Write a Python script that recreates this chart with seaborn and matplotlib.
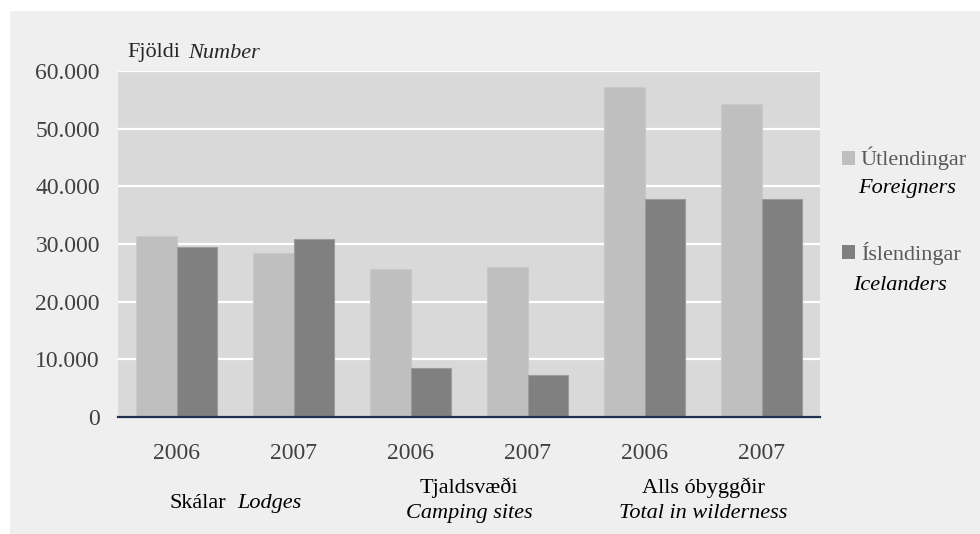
import matplotlib
matplotlib.use("Agg")
import matplotlib.pyplot as plt
from matplotlib.patches import Rectangle
from matplotlib.ticker import FuncFormatter, MultipleLocator
import pandas as pd
import seaborn as sns

# Data
flokkar = ["Skálar", "Skálar ", "Tjaldsvæði", "Tjaldsvæði ", "Alls óbyggðir", "Alls óbyggðir "]
ar = ["2006", "2007", "2006", "2007", "2006", "2007"]
utlendingar = [31400, 28400, 25700, 26000, 57200, 54200]
islendingar = [29500, 30800, 8500, 7200, 37800, 37800]
hopar = ["Útlendingar", "Íslendingar"]
hopar_en = ["Foreigners", "Icelanders"]
yfirflokkar = [("Skálar", "Lodges"), ("Tjaldsvæði", "Camping sites"), ("Alls óbyggðir", "Total in wilderness")]

# Style
LITIR = ["#bfbfbf", "#808080"]
BRUNIR = ["#c9c9c9", "#9c9c9c"]
PLOT_BG = "#d9d9d9"
PANEL_BG = "#efefef"
TEXT_GRAY = "#404040"
FS_TICK = 17
FS = 16

sns.set_theme(style="white")
plt.rcParams["font.family"] = ["Liberation Serif", "DejaVu Serif"]

df = pd.DataFrame({
    "flokkur": flokkar * 2,
    "fjoldi": utlendingar + islendingar,
    "hopur": [hopar[0]] * len(flokkar) + [hopar[1]] * len(flokkar),
})

fig = plt.figure(figsize=(9.8, 5.34), dpi=100)
fig.patch.set_facecolor("white")
fig.patches.append(Rectangle((10 / 980, 0), 1, 523 / 534, transform=fig.transFigure,
                             facecolor=PANEL_BG, edgecolor="none", zorder=-10))

ax = fig.add_axes([118 / 980, 1 - 417 / 534, 702 / 980, 346 / 534])
ax.set_facecolor(PLOT_BG)

sns.barplot(data=df, x="flokkur", y="fjoldi", hue="hopur", palette=LITIR,
            width=0.7, saturation=1, linewidth=0.8, ax=ax, legend=False)
for cont, brun in zip(ax.containers, BRUNIR):
    for bar in cont:
        bar.set_edgecolor(brun)

ax.set_ylim(0, 60000)
ax.yaxis.set_major_locator(MultipleLocator(10000))
ax.yaxis.set_major_formatter(FuncFormatter(lambda v, p: f"{int(v):,}".replace(",", ".")))
ax.grid(axis="y", color="white", linewidth=1.6)
ax.set_axisbelow(True)
for s in ["left", "right", "top"]:
    ax.spines[s].set_visible(False)
ax.spines["bottom"].set_color("#1f2f4f")
ax.spines["bottom"].set_linewidth(1.6)
ax.spines["bottom"].set_zorder(5)

ax.set_xticks(range(len(ar)))
ax.set_xticklabels(ar)
ax.tick_params(axis="x", length=0, pad=19, labelsize=FS_TICK, labelcolor=TEXT_GRAY)
ax.tick_params(axis="y", length=0, pad=13, labelsize=FS_TICK, labelcolor=TEXT_GRAY)
ax.set_xlabel("")
ax.set_ylabel("")

# Category labels under the years
trans = ax.get_xaxis_transform()
ax.text(0.42, -0.249, yfirflokkar[0][0], transform=trans, ha="right", va="center",
        fontsize=FS, color="black")
ax.text(0.52, -0.249, yfirflokkar[0][1], transform=trans, ha="left", va="center",
        fontsize=FS, color="black", style="italic")
for i, (isl, eng) in enumerate(yfirflokkar[1:], start=1):
    ax.text(2 * i + 0.5, -0.205, isl, transform=trans, ha="center", va="center",
            fontsize=FS, color="black")
    ax.text(2 * i + 0.5, -0.280, eng, transform=trans, ha="center", va="center",
            fontsize=FS, color="black", style="italic")

# Axis title
fig.text(127 / 980, 1 - 53 / 534, "Fjöldi", ha="left", va="center", fontsize=FS)
fig.text(188 / 980, 1 - 53 / 534, "Number", ha="left", va="center", fontsize=FS,
         style="italic")

# Legend
handles = [Rectangle((0, 0), 1, 1, facecolor=c, edgecolor="none") for c in LITIR]
leg = fig.legend(handles, hopar, loc="upper left", bbox_to_anchor=(822 / 980, 1 - 127 / 534),
                 frameon=False, fontsize=FS, handlelength=0.6, handleheight=0.6,
                 handletextpad=0.25, labelspacing=3.2, labelcolor="#595959")
for i, eng in enumerate(hopar_en):
    fig.text((858 - 5 * i) / 980, 1 - (189 + 96 * i) / 534, eng, ha="left", va="center",
             fontsize=FS, style="italic", color="black")

fig.savefig("out.png", dpi=100, facecolor=fig.get_facecolor())
